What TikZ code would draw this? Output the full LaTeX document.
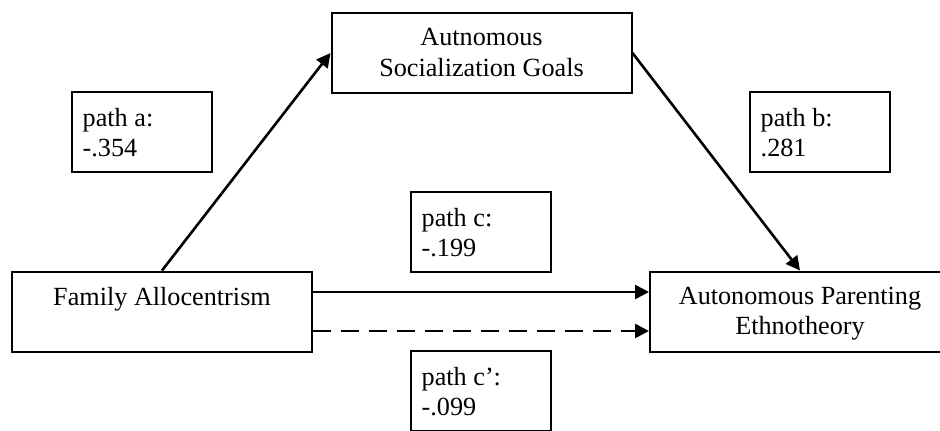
\documentclass[tikz,border=0pt]{standalone}
\usepackage{fontspec}
\setmainfont{Liberation Serif}
\usetikzlibrary{arrows.meta}

\begin{document}
\begin{tikzpicture}[x=0.5pt,y=-0.5pt,
  varbox/.style={draw, line width=1pt, minimum width=150pt, minimum height=40pt},
  pathbox/.style={draw, line width=0.7pt, minimum width=70pt, minimum height=40pt},
  vartext/.style={align=center, inner sep=0pt, font=\fontsize{13.1}{15.3}\selectfont},
  pathtext/.style={align=left, inner sep=0pt, font=\fontsize{13.1}{14.8}\selectfont},
  arr/.style={line width=1.3pt, -{Triangle[length=7pt,width=7pt]}}]

% Frame of the figure
\clip (0,0) rectangle (940,430);

% Variables
\node[varbox] (goals) at (481.5,53) {};
\node[varbox] (fam) at (162,311.5) {};
\node[varbox] (ethno) at (800,311.5) {};

\node[vartext, below=8pt] at (goals.north) {Autnomous\\Socialization Goals};
\node[vartext, below=8pt] at (fam.north) {Family Allocentrism};
\node[vartext, below=8pt] at (ethno.north) {Autonomous Parenting\\Ethnotheory};

% Path coefficients
\node[pathbox] (pa) at (142,132) {};
\node[pathbox] (pb) at (820,132) {};
\node[pathbox] (pc) at (481,232) {};
\node[pathbox] (pcc) at (481,391) {};

\node[pathtext, anchor=north west] at ([xshift=5.5pt,yshift=-8.5pt]pa.north west) {path a:\\-.354};
\node[pathtext, anchor=north west] at ([xshift=5.5pt,yshift=-8.5pt]pb.north west) {path b:\\.281};
\node[pathtext, anchor=north west] at ([xshift=5.5pt,yshift=-8.5pt]pc.north west) {path c:\\-.199};
\node[pathtext, anchor=north west] at ([xshift=5.5pt,yshift=-8.5pt]pcc.north west) {path c’:\\-.099};

% Mediated paths
\draw[arr] (fam.north) -- (goals.west);
\draw[arr] (goals.east) -- (ethno.north);

% Direct paths
\draw[arr] ([yshift=9.75pt]fam.east) -- ([yshift=9.75pt]ethno.west);
\draw[arr, dash pattern=on 9pt off 5pt] ([yshift=-9.75pt]fam.east) -- ([yshift=-9.75pt]ethno.west);

\end{tikzpicture}
\end{document}
